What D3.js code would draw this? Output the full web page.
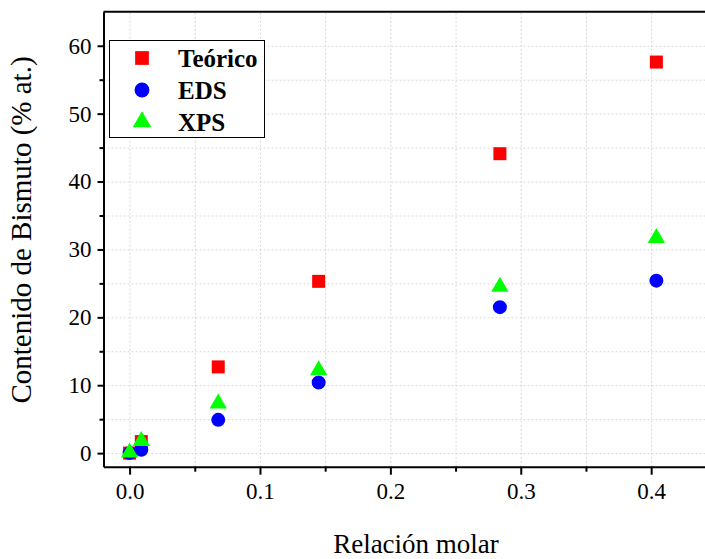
<!DOCTYPE html>
<html lang="es">
<head>
<meta charset="UTF-8">
<title>Contenido de Bismuto</title>
<style>
  body { margin: 0; background: #fff; }
  svg text { font-family: "Liberation Serif", "Times New Roman", serif; }
  .grid line { stroke: #d8d8d8; stroke-width: 1; stroke-dasharray: 2,2; }
  .grid .domain { display: none; }
  .axis path, .axis line { stroke: #000; stroke-width: 2; }
</style>
</head>
<body>
<svg class="chart" width="705" height="559"></svg>
<script src="https://d3js.org/d3.v7.min.js"></script>
<script>
// data
var ratio   = [0, 0.009, 0.068, 0.145, 0.284, 0.404];
var teorico = [0, 1.7, 12.7, 25.3, 44.1, 57.6];
var eds     = [0, 0.5, 4.9, 10.4, 21.5, 25.4];
var xps     = [0.1, 1.8, 7.3, 12.2, 24.5, 31.7];
var seriesNames = ["Teórico", "EDS", "XPS"];
var xTicks = [0, 0.1, 0.2, 0.3, 0.4];
var yTicks = [0, 10, 20, 30, 40, 50, 60];

var svg = d3.select(".chart");

var x = d3.scaleLinear().domain([-0.02, 0.46]).range([103.5, 729.4]);
var y = d3.scaleLinear().domain([-2, 65]).range([466.7, 11.8]);

var plotLeft = x.range()[0], plotRight = x.range()[1];
var plotTop = y.range()[1], plotBottom = y.range()[0];

// grid (every minor step)
var xGridVals = d3.range(0, 0.451, 0.05);
var yGridVals = d3.range(0, 65, 5);
svg.append("g").attr("class", "grid")
  .attr("transform", "translate(0," + plotBottom + ")")
  .call(d3.axisBottom(x).tickValues(xGridVals).tickSize(-(plotBottom - plotTop)).tickFormat(""));
svg.append("g").attr("class", "grid")
  .attr("transform", "translate(" + plotLeft + ",0)")
  .call(d3.axisLeft(y).tickValues(yGridVals).tickSize(-(plotRight - plotLeft)).tickFormat(""));

// minor ticks
svg.append("g").attr("class", "axis minor")
  .attr("transform", "translate(0," + plotBottom + ")")
  .call(d3.axisBottom(x).tickValues(d3.range(0.05, 0.451, 0.1)).tickSize(5).tickFormat(""))
  .select(".domain").remove();
svg.append("g").attr("class", "axis minor")
  .attr("transform", "translate(" + plotLeft + ",0)")
  .call(d3.axisLeft(y).tickValues(d3.range(5, 60, 10)).tickSize(4).tickFormat(""))
  .select(".domain").remove();

// main axes
svg.append("g").attr("class", "axis")
  .attr("transform", "translate(0," + plotBottom + ")")
  .call(d3.axisBottom(x).tickValues(xTicks).tickSize(8).tickSizeOuter(0).tickPadding(8)
    .tickFormat(d3.format(".1f")))
  .attr("font-family", "Liberation Serif").attr("font-size", 23);
svg.append("g").attr("class", "axis")
  .attr("transform", "translate(" + plotLeft + ",0)")
  .call(d3.axisLeft(y).tickValues(yTicks).tickSize(6).tickSizeOuter(0).tickPadding(6)
    .tickFormat(d3.format("d")))
  .attr("font-family", "Liberation Serif").attr("font-size", 23);
svg.selectAll(".axis text").attr("fill", "#000");

// top frame line
svg.append("line").attr("x1", plotLeft).attr("x2", plotRight)
  .attr("y1", plotTop).attr("y2", plotTop)
  .attr("stroke", "#000").attr("stroke-width", 2);

// axis titles
svg.append("text").attr("x", 416).attr("y", 553).attr("text-anchor", "middle")
  .attr("font-size", 27).text("Relación molar");
svg.append("text").attr("transform", "translate(31,230) rotate(-90)")
  .attr("text-anchor", "middle").attr("font-size", 29).text("Contenido de Bismuto (% at.)");

// markers
var styles = [
  { vals: teorico, color: "#ff0000", shape: d3.symbolSquare, size: 169 },
  { vals: eds, color: "#0000ff", shape: d3.symbolCircle, size: 154 },
  { vals: xps, color: "#00ff00", shape: d3.symbolTriangle, size: 130 }
];
styles.forEach(function (s) {
  svg.append("g").selectAll("path")
    .data(ratio.map(function (r, i) { return [r, s.vals[i]]; }))
    .enter().append("path")
    .attr("transform", function (d) { return "translate(" + x(d[0]) + "," + y(d[1]) + ")"; })
    .attr("d", d3.symbol().type(s.shape).size(s.size))
    .attr("fill", s.color);
});

// legend
var lg = svg.append("g");
lg.append("rect").attr("x", 109.5).attr("y", 40.5).attr("width", 155).attr("height", 97)
  .attr("fill", "#fff").attr("stroke", "#000").attr("stroke-width", 1);
styles.forEach(function (s, i) {
  var cy = 58 + i * 32;
  lg.append("path").attr("transform", "translate(142," + cy + ")")
    .attr("d", d3.symbol().type(s.shape).size(s.size + 20)).attr("fill", s.color);
  lg.append("text").attr("x", 178).attr("y", cy).attr("dy", "0.35em")
    .attr("font-size", 25).attr("font-weight", "bold").text(seriesNames[i]);
});
</script>
</body>
</html>
